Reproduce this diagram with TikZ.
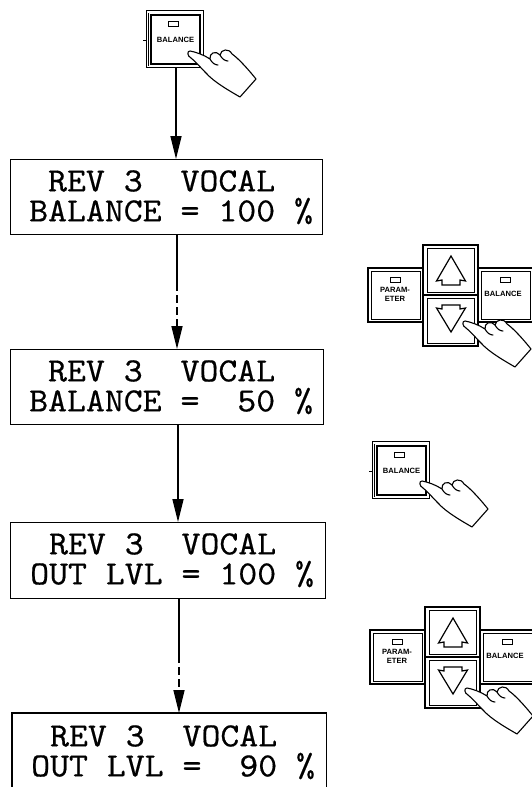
\documentclass[tikz,border=0pt]{standalone}
\usepackage{fontspec}
\newfontfamily\lcdfont{lmmono10-regular.otf}[FakeStretch=1.06,FakeBold=0.4]
\newfontfamily\btnfont{Liberation Sans}
\usetikzlibrary{arrows.meta,calc}
\tikzset{
  lcdbox/.style={draw, line width=1.3pt, inner sep=0pt, anchor=north west},
  lcdtext/.style={anchor=north west, inner sep=0pt, align=left, font=\lcdfont\fontsize{34}{30}\selectfont},
  btntext/.style={inner sep=0pt, font=\btnfont\bfseries\fontsize{7.6}{8}\selectfont},
  ln/.style={line width=1.6pt},
  arr/.style={line width=1.6pt, -{Triangle[length=23pt,width=11pt]}},
  darr/.style={arr, dash pattern=on 8pt off 4pt},
  btnout/.style={line width=1.6pt},
  btnin/.style={line width=0.9pt},
  btnframe/.style={line width=0.9pt},
  handline/.style={line width=1.1pt, line join=round, line cap=round},
  hand/.pic={
    \draw[handline, fill=white] (0,-2) .. controls (6,-1) and (14,2) .. (20,6)
      .. controls (19,0) and (26,-3) .. (30,2)
      .. controls (31,-4) and (39,-5) .. (42,1)
      .. controls (48,5) and (58,16) .. (66,26)
      -- (50,44)
      .. controls (38,37) and (24,29) .. (16,20)
      .. controls (10,14) and (5,8) .. (1,5)
      .. controls (-3,3) and (-3,-2) .. (0,-2) -- cycle;
    \draw[handline] (20,6) .. controls (22,10) and (25,12) .. (28,12);
    \draw[handline] (30,2) .. controls (32,6) and (35,8) .. (38,8);
  },
  balbtn/.pic={
    \draw[btnframe] (-5,-4.5) rectangle (52,52.5);
    \draw[btnframe] (-2.5,-2) -- (-2.5,51);
    \draw[btnframe] (-8,25) -- (-5,25);
    \draw[line width=1.5pt] (0,0) rectangle (49,49);
    \draw[btnin] (17,6.5) rectangle (27,11.5);
    \node[btntext] (-lbl) at (24.5,25) {BALANCE};
  },
  padbtn/.pic={
    % up
    \draw[btnout] (0,0) rectangle (55,50);
    \draw[btnin] (4,3) rectangle (51,47);
    \draw[line width=1.2pt, line join=miter] (28,11) -- (42.5,36) -- (37,35) -- (37,40) -- (19,40) -- (19,35) -- (13.5,36) -- cycle;
    % down
    \draw[btnout] (0,50) rectangle (55,101);
    \draw[btnin] (4,53) rectangle (51,98);
    \draw[line width=1.2pt, line join=miter] (19,60) -- (37,60) -- (37,64) -- (42.5,63) -- (28,87) -- (13.5,63) -- (19,64) -- cycle;
    % parameter
    \draw[btnout] (-55,23) rectangle (0,77);
    \draw[btnin] (-52,26) rectangle (-3,74);
    \draw[btnin] (-33,32) rectangle (-23,37);
    \node[btntext] (-p1) at (-28,45) {PARAM-};
    \node[btntext] (-p2) at (-28,54) {ETER};
    % balance
    \draw[btnout] (55,23) rectangle (110,77);
    \draw[btnin] (58,26) rectangle (107,74);
    \draw[btnin] (77,32) rectangle (87,37);
    \node[btntext] (-b) at (80,49) {BALANCE};
  }
}
\begin{document}
\begin{tikzpicture}[x=1pt,y=-1pt]
\clip (0,0) rectangle (532,787);
\fill[white] (0,0) rectangle (532,787);

% top button and hand
\pic (k1) at (151,15) {balbtn};
\pic (h1) at (190,53) {hand};
\coordinate (k1b) at (176,68);

% LCD boxes
\node[lcdbox, minimum width=312pt, minimum height=75pt] (b1) at (10,159) {};
\node[lcdbox, minimum width=313pt, minimum height=75pt] (b2) at (10,349) {};
\node[lcdbox, minimum width=315pt, minimum height=76pt] (b3) at (10,522) {};
\node[lcdbox, draw=none, minimum width=313pt, minimum height=90pt] (b4) at (12,713) {};
\draw[line width=1.3pt] (b4.south west) -- (b4.north west) -- (b4.north east) -- (b4.south east);

\node[lcdtext] (t1) at ($(b1.north west)+(19,11)$) {~REV~3~~VOCAL\\BALANCE~=~100~\%};
\node[lcdtext] (t2) at ($(b2.north west)+(19,11)$) {~REV~3~~VOCAL\\BALANCE~=~~50~\%};
\node[lcdtext] (t3) at ($(b3.north west)+(20,11)$) {~REV~3~~VOCAL\\OUT~LVL~=~100~\%};
\node[lcdtext] (t4) at ($(b4.north west)+(19,12)$) {~REV~3~~VOCAL\\OUT~LVL~=~~90~\%};

% connectors
\coordinate (a2) at (177,0);
\coordinate (a3) at (178,0);
\coordinate (a4) at (179,0);
\draw[arr] (k1b) -- (b1.north -| k1b);
\draw[ln] (b1.south -| a2) -- ++(0,48) coordinate (m2);
\draw[darr] (m2) -- (b2.north -| a2);
\draw[arr] (b2.south -| a3) -- (b3.north -| a3);
\draw[ln] (b3.south -| a4) -- ++(0,56) coordinate (m4);
\draw[darr] (m4) -- (b4.north -| a4);

% side controls
\pic (p1) at (423,245) {padbtn};
\pic (h2) at (465,323) {hand};
\pic (k2) at (377,446) {balbtn};
\pic (h3) at (422,483) {hand};
\pic (p2) at (425,607) {padbtn};
\pic (h4) at (467,690) {hand};
\end{tikzpicture}
\end{document}
